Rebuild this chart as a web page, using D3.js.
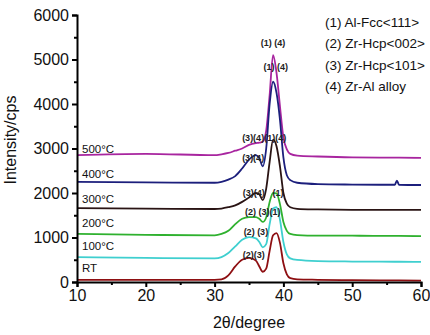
<!DOCTYPE html>
<html><head><meta charset="utf-8">
<script src="https://cdn.jsdelivr.net/npm/d3@7"></script>
<style>body{margin:0;background:#fff}svg{display:block}text{font-family:Arial,"Liberation Sans",sans-serif}</style>
</head><body><svg id="c" width="430" height="335"></svg>
<script>
const twoTheta = [10,20,30,31,32,33,34,35,36,36.5,37,37.5,38,38.5,39,39.5,40,40.5,41,42,45,50,56.2,56.5,56.8,60];
const seriesNames = ["500°C","400°C","300°C","200°C","100°C","RT"];
const s500 = [2850,2880,2850,2870,2900,2950,3000,3080,3120,3130,3150,3400,4200,5100,4700,3950,3250,2980,2880,2840,2820,2800,2795,2795,2795,2790];
const s400 = [2250,2240,2230,2250,2300,2380,2550,2750,2850,2780,2600,3000,4000,4500,4250,3650,2800,2400,2290,2230,2200,2190,2185,2280,2185,2180];
const s300 = [1660,1650,1640,1650,1680,1720,1800,1900,2000,1970,1840,2100,2700,3200,3050,2600,2000,1760,1680,1645,1630,1620,1620,1620,1620,1620];
const s200 = [1080,1060,1050,1080,1150,1300,1420,1460,1460,1420,1350,1450,1800,2000,1990,1750,1350,1150,1080,1055,1040,1040,1035,1035,1035,1030];
const s100 = [560,540,530,560,650,800,950,1010,980,900,780,850,1300,1650,1680,1400,900,620,530,495,470,460,455,455,455,450];
const sRT  = [50,50,50,60,150,350,500,540,480,350,230,300,700,1050,1100,880,420,170,85,60,50,40,35,35,35,30];
const seriesValues = [s500,s400,s300,s200,s100,sRT];
const seriesColors = ["#a8259f","#1c1f7c","#2a1414","#2fb12f","#3fcfcf","#8e0f12"];
const labelY = [3000,2430,1870,1330,800,320]; // intensity at label text centre
const xTicks = [10,20,30,40,50,60];
const yTicks = [0,1000,2000,3000,4000,5000,6000];
const legendItems = ["(1) Al-Fcc<111>","(2) Zr-Hcp<002>","(3) Zr-Hcp<101>","(4) Zr-Al alloy"];
const annotations = [
  ["(1) (4)",38.5,5370],["(1) (4)",38.9,4830],
  ["(3)(4)",35.6,3240],["(1)(4)",38.8,3240],
  ["(3)(4)",35.6,2790],
  ["(3)(4)",35.7,2000],["(1)",39.2,2000],
  ["(2) (3)(1)",37.0,1570],
  ["(2) (3)",36.0,1120],
  ["(2)(3)",35.7,610]
];

const svg = d3.select("#c");
const x = d3.scaleLinear().domain([10,60]).range([77,421]);
const y = d3.scaleLinear().domain([0,6000]).range([282,15]);

const line = d3.line().x((d,i)=>x(twoTheta[i])).y(d=>y(d)).curve(d3.curveMonotoneX);
svg.append("g").selectAll("path").data(seriesValues).join("path")
  .attr("d",line).attr("fill","none")
  .attr("stroke",(d,i)=>seriesColors[i]).attr("stroke-width",1.8);

// axes
const xAxis = svg.append("g").attr("transform","translate(0,282)")
  .call(d3.axisBottom(x).tickValues(xTicks).tickFormat(d3.format("d")).tickSize(5).tickPadding(3));
const xMinor = svg.append("g").attr("transform","translate(0,282)")
  .call(d3.axisBottom(x).tickValues(d3.range(15,60,10)).tickFormat("").tickSize(3));
const yAxis = svg.append("g").attr("transform","translate(77,0)")
  .call(d3.axisLeft(y).tickValues(yTicks).tickFormat(d3.format("d")).tickSize(5).tickPadding(3));
const yMinor = svg.append("g").attr("transform","translate(77,0)")
  .call(d3.axisLeft(y).tickValues(d3.range(500,6000,1000)).tickFormat("").tickSize(3));
[xAxis,xMinor,yAxis,yMinor].forEach(g=>{
  g.selectAll("path").attr("stroke","#000").attr("stroke-width",2);
  g.selectAll("line").attr("stroke","#000").attr("stroke-width",2);
  g.selectAll("text").attr("font-size",16).attr("fill","#111");
});
xMinor.select("path").remove(); yMinor.select("path").remove();

svg.append("text").attr("x",249).attr("y",328).attr("text-anchor","middle")
  .attr("font-size",16).attr("fill","#111").text("2θ/degree");
svg.append("text").attr("transform","translate(16,140) rotate(-90)").attr("text-anchor","middle")
  .attr("font-size",16).attr("fill","#111").text("Intensity/cps");

// series labels
svg.append("g").selectAll("text").data(seriesNames).join("text")
  .attr("x",82).attr("y",(d,i)=>y(labelY[i])).attr("dy","0.35em")
  .attr("font-size",11.5).attr("fill","#111").text(d=>d);

// legend
svg.append("g").selectAll("text").data(legendItems).join("text")
  .attr("x",325).attr("y",(d,i)=>22+i*21.5).attr("dy","0.35em")
  .attr("font-size",13.5).attr("fill","#111").text(d=>d);

// peak annotations
svg.append("g").selectAll("text").data(annotations).join("text")
  .attr("x",d=>x(d[1])).attr("y",d=>y(d[2])).attr("dy","0.35em").attr("text-anchor","middle")
  .attr("font-size",9).attr("font-weight","bold").attr("fill","#222").text(d=>d[0]);
</script></body></html>
